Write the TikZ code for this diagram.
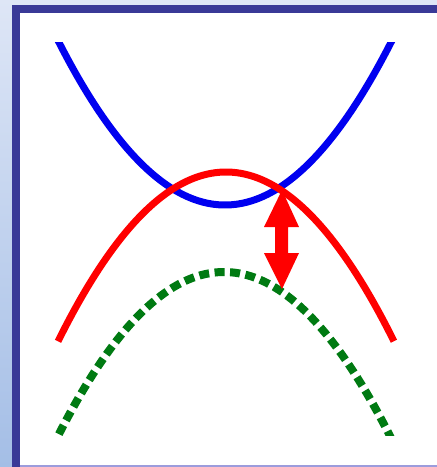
\documentclass[tikz,border=0pt]{standalone}
\begin{document}
\begin{tikzpicture}[x=1pt,y=-1pt,
  curve/.style={line width=7pt},
  greencurve/.style={line width=8pt, dash pattern=on 10pt off 5.5pt},
]
\definecolor{bgtop}{HTML}{DEE6F6}
\definecolor{bgbot}{HTML}{A4BEE6}
\definecolor{framecol}{HTML}{393997}
\definecolor{bottomline}{HTML}{9C9CDC}
\definecolor{curveblue}{HTML}{0000F0}
\definecolor{curvered}{HTML}{FF0000}
\definecolor{curvegreen}{HTML}{007A12}
\useasboundingbox (0,0) rectangle (437,467);
% background gradient
\shade[top color=bgtop, bottom color=bgbot] (0,0) rectangle (437,467);
% frame
\fill[framecol] (12,5) rectangle (437,467);
\fill[white] (20,13) rectangle (437,467);
\fill[bottomline] (20,465) rectangle (437,467);
% curves clipped to the inset
\begin{scope}
  \clip (45,42) rectangle (405,435);
  \draw[curve, curveblue] plot[domain=-1.75:1.75, samples=80, smooth] ({225+100*\x},{205-59*\x*\x});
  \draw[curve, curvered] plot[domain=-1.68:1.68, samples=80, smooth] ({226+100*\x},{172+60*\x*\x});
  \draw[greencurve, curvegreen] plot[domain=-1.72:1.72, samples=80, smooth] ({224+100*\x},{272+59.5*\x*\x});
\end{scope}
% double arrow
\coordinate (top) at (282,190);
\coordinate (bot) at (282,289);
\fill[curvered] (top) -- (299,227) -- (288,227) -- (288,253) -- (299,253) -- (bot)
  -- (264,253) -- (275,253) -- (275,227) -- (264,227) -- cycle;
\end{tikzpicture}
\end{document}
